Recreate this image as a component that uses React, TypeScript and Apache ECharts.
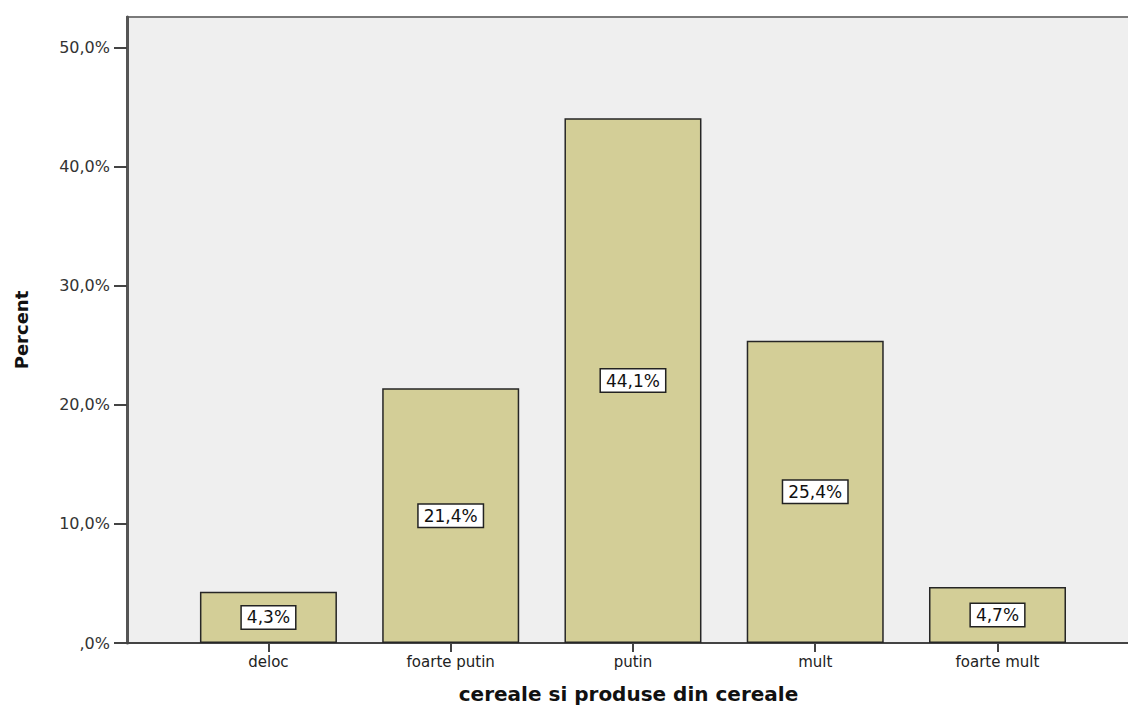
import React, { useEffect, useRef } from "react";
import * as echarts from "echarts";

const categories = ["deloc", "foarte putin", "putin", "mult", "foarte mult"];
const percentValues = [4.3, 21.4, 44.1, 25.4, 4.7];
const yTicks = [0, 10, 20, 30, 40, 50];

const fmtPct = (v: number) => (v === 0 ? ",0%" : v.toFixed(1).replace(".", ",") + "%");

export default function App() {
  const ref = useRef<HTMLDivElement>(null);
  useEffect(() => {
    if (!ref.current) return;
    const chart = echarts.init(ref.current, undefined, { renderer: "svg" });
    const idx = categories.map((_, i) => i);
    chart.setOption({
      animation: false,
      backgroundColor: "#ffffff",
      textStyle: { fontFamily: "DejaVu Sans" },
      grid: {
        left: 127,
        right: -2,
        top: 17,
        bottom: 62,
        outerBoundsMode: "none",
        containLabel: false,
        show: true,
        backgroundColor: "#efefef",
        borderColor: "#7a7a7a",
        borderWidth: 2,
      },
      xAxis: {
        type: "value",
        min: -0.776,
        max: 4.727,
        name: "cereale si produse din cereale",
        nameLocation: "middle",
        nameGap: 41,
        nameTextStyle: { fontFamily: "DejaVu Sans", fontWeight: "bold", fontSize: 20, color: "#111" },
        axisLine: { show: true, onZero: false, lineStyle: { color: "#444", width: 2 } },
        axisTick: { show: true, customValues: idx, length: 9, lineStyle: { color: "#444", width: 2 } },
        axisLabel: {
          customValues: idx,
          formatter: (v: number) => categories[Math.round(v)] ?? "",
          fontSize: 15,
          color: "#222",
          margin: 11,
          fontFamily: "DejaVu Sans",
        },
        splitLine: { show: false },
      },
      yAxis: {
        type: "value",
        min: 0,
        max: 52.6,
        interval: 10,
        name: "Percent",
        nameLocation: "middle",
        nameRotate: 90,
        nameGap: 97,
        nameTextStyle: { fontFamily: "DejaVu Sans", fontWeight: "bold", fontSize: 18, color: "#111" },
        axisLine: { show: true, onZero: false, lineStyle: { color: "#555", width: 3 } },
        axisTick: { show: true, customValues: yTicks, length: 13, lineStyle: { color: "#444", width: 2 } },
        axisLabel: {
          customValues: yTicks,
          formatter: (v: number) => fmtPct(v),
          fontSize: 16,
          color: "#333",
          margin: 17,
          fontFamily: "DejaVu Sans",
        },
        splitLine: { show: false },
      },
      series: [
        {
          type: "bar",
          data: percentValues.map((v, i) => [i, v]),
          barWidth: 137,
          itemStyle: { color: "#d3ce97", borderColor: "#262626", borderWidth: 1.5 },
          label: {
            show: true,
            position: "inside",
            formatter: (p: any) => fmtPct(p.value[1]),
            backgroundColor: "#ffffff",
            borderColor: "#222",
            borderWidth: 1.5,
            padding: [3, 5, 2, 5],
            fontSize: 17,
            color: "#111",
            fontFamily: "DejaVu Sans",
          },
        },
      ],
    });
    return () => chart.dispose();
  }, []);
  return <div ref={ref} style={{ width: 1128, height: 705, position: "absolute", left: 0, top: 0 }} />;
}
